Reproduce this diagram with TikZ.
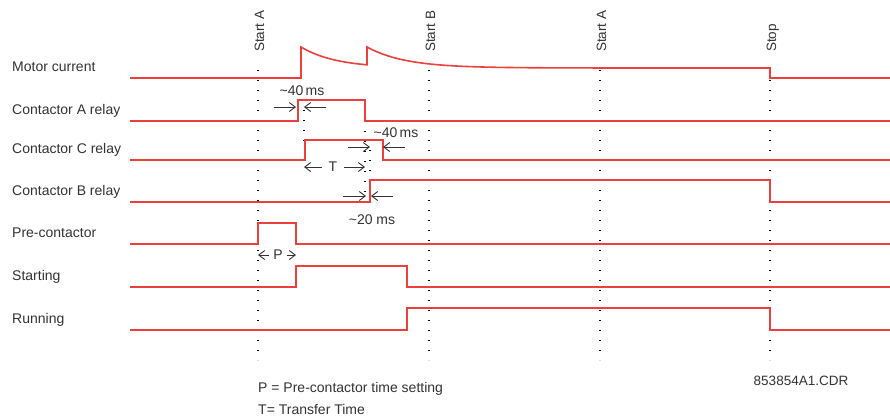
\documentclass[tikz,border=0pt]{standalone}
\usepackage{fontspec}
\setmainfont{Liberation Sans}
\usetikzlibrary{arrows.meta}
\definecolor{sigred}{RGB}{236,64,60}
\definecolor{txtgray}{RGB}{51,51,51}

\begin{document}
\begin{tikzpicture}[x=1pt, y=-1pt,
  signal/.style={sigred, line width=1.6pt},
  guide/.style={black, line width=1.4pt, dash pattern=on 1.4pt off 8.6pt},
  dim/.style={txtgray, line width=0.9pt, -{Straight Barb[length=6pt,width=9pt]}},
  rowlabel/.style={anchor=base west, inner sep=0pt, text=txtgray, font=\fontsize{14}{16}\selectfont},
  eventlabel/.style={anchor=base west, rotate=90, inner sep=0pt, text=txtgray, font=\fontsize{13.5}{16}\selectfont},
  note/.style={inner sep=0pt, text=txtgray, font=\fontsize{14}{16}\selectfont}]
  \useasboundingbox (0,0) rectangle (890,416);
  % dotted event lines
  \draw[guide] (258,70) -- (258,360);
  \draw[guide] (429,70) -- (429,360);
  \draw[guide] (600,70) -- (600,360);
  \draw[guide] (770,70) -- (770,360);
  \draw[guide] (304,100) -- (304,142);
  \draw[guide] (365,121) -- (365,208);
  \draw[guide] (370,140) -- (370,182);
  % event labels
  \node[eventlabel] (evStartA) at (264,52) {Start A};
  \node[eventlabel] (evStartB) at (435,52) {Start B};
  \node[eventlabel] (evStartA2) at (606,52) {Start A};
  \node[eventlabel] (evStop) at (776,52) {Stop};
  % row labels
  \node[rowlabel] (motor) at (12,71.5) {Motor current};
  \node[rowlabel] (relayA) at (12,114.5) {Contactor A relay};
  \node[rowlabel] (relayC) at (12,153.5) {Contactor C relay};
  \node[rowlabel] (relayB) at (12,195.5) {Contactor B relay};
  \node[rowlabel] (precon) at (12,237.5) {Pre-contactor};
  \node[rowlabel] (starting) at (12,280.5) {Starting};
  \node[rowlabel] (running) at (12,323.5) {Running};
  % waveforms
  \draw[signal] (130,78) -- (301,78) -- (301,47)
    -- plot[domain=301:367, samples=40] (\x, {68-21*exp(-(\x-301)/35)})
    -- (367,47)
    -- plot[domain=367:770, samples=80] (\x, {68-21*exp(-(\x-367)/38)})
    -- (770,78) -- (890,78);
  \draw[signal] (130,121) -- (298,121) -- (298,100) -- (365,100) -- (365,121) -- (890,121);
  \draw[signal] (130,160) -- (305,160) -- (305,140) -- (383,140) -- (383,160) -- (890,160);
  \draw[signal] (130,202) -- (370,202) -- (370,180) -- (770,180) -- (770,202) -- (890,202);
  \draw[signal] (130,244) -- (258,244) -- (258,223) -- (296,223) -- (296,244) -- (890,244);
  \draw[signal] (130,287) -- (296,287) -- (296,266) -- (407,266) -- (407,287) -- (890,287);
  \draw[signal] (130,330) -- (407,330) -- (407,308) -- (770,308) -- (770,330) -- (890,330);
  % ~40ms between A and C
  \node[note] (dlyA) at (302,91) {\textasciitilde40\,ms};
  \coordinate (dlyAl) at (274,107);
  \coordinate (dlyAlh) at (296,107);
  \coordinate (dlyAr) at (326,107);
  \coordinate (dlyArh) at (304,107);
  \draw[dim] (dlyAl) -- (dlyAlh);
  \draw[dim] (dlyAr) -- (dlyArh);
  % ~40ms after A drops
  \node[note] (dlyC) at (396,133) {\textasciitilde40\,ms};
  \coordinate (dlyCl) at (348,147);
  \coordinate (dlyClh) at (370,147);
  \coordinate (dlyCr) at (405,147);
  \coordinate (dlyCrh) at (383,147);
  \draw[dim] (dlyCl) -- (dlyClh);
  \draw[dim] (dlyCr) -- (dlyCrh);
  % transfer time
  \node[note, inner xsep=7pt] (tT) at (333,167) {T};
  \coordinate (tTl) at (304,167);
  \coordinate (tTr) at (365,167);
  \draw[dim] (tT.west) -- (tTl);
  \draw[dim] (tT.east) -- (tTr);
  % ~20 ms before B
  \node[note] (dlyB) at (372,220) {\textasciitilde20 ms};
  \coordinate (dlyBl) at (343,196);
  \coordinate (dlyBlh) at (366,196);
  \coordinate (dlyBr) at (393,196);
  \coordinate (dlyBrh) at (371,196);
  \draw[dim] (dlyBl) -- (dlyBlh);
  \draw[dim] (dlyBr) -- (dlyBrh);
  % pre-contactor time
  \node[note, inner xsep=4pt] (tP) at (278,255) {P};
  \coordinate (tPl) at (258,255);
  \coordinate (tPr) at (296,255);
  \draw[dim] (tP.west) -- (tPl);
  \draw[dim] (tP.east) -- (tPr);
  % legend
  \node[note, anchor=west] (legP) at (258,389) {P = Pre-contactor time setting};
  \node[note, anchor=west] (legT) at (258,409) {T= Transfer Time};
  \node[note, font=\fontsize{13.5}{16}\selectfont] (drwno) at (801,381) {853854A1.CDR};
\end{tikzpicture}
\end{document}
